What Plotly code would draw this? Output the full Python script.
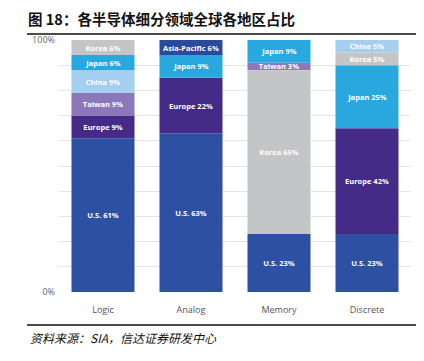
import plotly.graph_objects as go

categories = ["Logic", "Analog", "Memory", "Discrete"]

# stacking order (bottom -> top) and shares for each category
logic_regions = ["U.S.", "Europe", "Taiwan", "China", "Japan", "Korea"]
logic_shares = [61, 9, 9, 9, 6, 6]
analog_regions = ["U.S.", "Europe", "Japan", "Asia-Pacific"]
analog_shares = [63, 22, 9, 6]
memory_regions = ["U.S.", "Korea", "Taiwan", "Japan"]
memory_shares = [23, 65, 3, 9]
discrete_regions = ["U.S.", "Europe", "Japan", "Korea", "China"]
discrete_shares = [23, 42, 25, 5, 5]

region_names = ["U.S.", "Europe", "Taiwan", "China", "Japan", "Korea", "Asia-Pacific"]
region_colors = ["#2C51A2", "#452B87", "#8C78B8", "#A4CFF0", "#29A8E0", "#C4C5C7", "#2A4A9C"]

stacks = {
    "Logic": (logic_regions, logic_shares),
    "Analog": (analog_regions, analog_shares),
    "Memory": (memory_regions, memory_shares),
    "Discrete": (discrete_regions, discrete_shares),
}

fig = go.Figure()
for name, color in zip(region_names, region_colors):
    xs, ys, bases, texts = [], [], [], []
    for cat in categories:
        regs, vals = stacks[cat]
        if name in regs:
            i = regs.index(name)
            xs.append(cat)
            ys.append(vals[i])
            bases.append(sum(vals[:i]))
            texts.append(f"{name} {vals[i]}%")
    fig.add_trace(go.Bar(
        x=xs, y=ys, base=bases, name=name,
        marker=dict(color=color, line=dict(width=0)),
        text=texts, textposition="inside", insidetextanchor="middle",
        textfont=dict(color="white", size=7.5, family="Open Sans", weight="bold"),
        textangle=0,
    ))

# page body has an 8px margin; figure is sized/positioned to compensate
PL, PT, PW, PH = 59, 40, 352, 252  # plot area in window coordinates

fig.update_layout(
    width=416, height=353,
    barmode="overlay", bargap=0.284,
    showlegend=False,
    plot_bgcolor="white", paper_bgcolor="white",
    margin=dict(l=51, r=13, t=32, b=69),
    uniformtext=dict(minsize=7.5, mode="show"),
    font=dict(family="Open Sans", color="#555555"),
    xaxis=dict(
        categoryorder="array", categoryarray=categories,
        showline=False, ticks="", tickfont=dict(size=9, color="#555555"),
        ticklabelstandoff=11,
    ),
    yaxis=dict(
        range=[0, 100], tickvals=[0, 100], ticktext=["0%", "100%"],
        showgrid=True, gridcolor="#E6E6E6", gridwidth=1,
        zeroline=False, showline=False,
        tickfont=dict(size=9, color="#666666"),
        minor=dict(dtick=10, showgrid=True, gridcolor="#E6E6E6", gridwidth=1),
        ticklabelstandoff=3,
    ),
)

def px(xw):
    return (xw - PL) / PW

def py(yw):
    return (PT + PH - yw) / PH

fig.add_annotation(
    text="<b>图 18：各半导体细分领域全球各地区占比</b>",
    xref="paper", yref="paper", x=px(26), y=py(18),
    xanchor="left", yanchor="middle", showarrow=False,
    font=dict(family="Noto Sans CJK SC", size=14.5, color="#111111"),
)
fig.add_annotation(
    text="<i>资料来源：SIA，信达证券研发中心</i>",
    xref="paper", yref="paper", x=px(28), y=py(337),
    xanchor="left", yanchor="middle", showarrow=False,
    font=dict(family="Noto Sans CJK SC", size=12, color="#111111"),
)
fig.add_shape(type="line", xref="paper", yref="paper",
              x0=px(27), x1=px(421), y0=py(34), y1=py(34),
              line=dict(color="#111111", width=1.5))
fig.add_shape(type="line", xref="paper", yref="paper",
              x0=px(27), x1=px(421), y0=py(325), y1=py(325),
              line=dict(color="#111111", width=1.5))

fig.write_html("out.html")
